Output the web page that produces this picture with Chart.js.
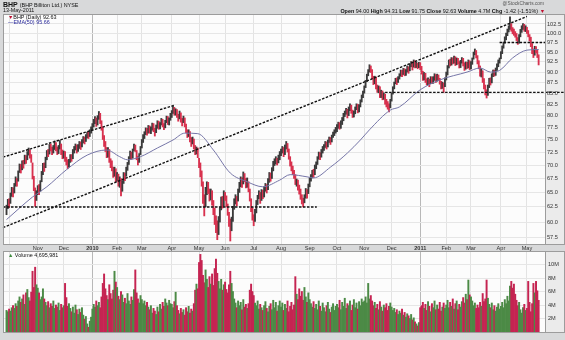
<!DOCTYPE html>
<html lang="en">
<head>
<meta charset="UTF-8">
<title>BHP Daily</title>
<script src="https://cdn.jsdelivr.net/npm/chart.js"></script>
<style>
  body { margin: 0; width: 565px; height: 340px; background: #d8d9da; position: relative; overflow: hidden;
         font-family: "Liberation Sans", Arial, sans-serif; }
  canvas { position: absolute; left: 0; }
  #priceChart { top: 0; }
  #volumeChart { top: 244px; }
  .t { position: absolute; white-space: nowrap; font-size: 5.4px; color: #111; line-height: 1; }
  .t b { font-weight: bold; }
</style>
</head>
<body>
<canvas id="priceChart" width="565" height="252"></canvas>
<canvas id="volumeChart" width="565" height="96"></canvas>

<div class="t" style="left:3px;top:1px;font-size:7px;"><b>BHP</b> <span style="font-size:5.4px">(BHP Billiton Ltd.) NYSE</span></div>
<div class="t" style="left:3px;top:8px;">13-May-2011</div>
<div class="t" style="right:21px;top:2px;color:#555;font-size:4.8px;">@StockCharts.com</div>
<div class="t" style="right:20px;top:8.5px;"><b>Open</b> 94.00 <b>High</b> 94.31 <b>Low</b> 91.75 <b>Close</b> 92.63 <b>Volume</b> 4.7M <b>Chg</b> -1.42 (-1.51%) <span style="color:#c01030">&#9660;</span></div>
<div class="t" style="left:8px;top:14.5px;"><span style="color:#c01030">&#9660;</span>BHP (Daily) 92.63</div>
<div class="t" style="left:8px;top:19.5px;color:#2a2a9c;">&#8212;EMA(50) 95.66</div>
<div class="t" style="left:8px;top:252.5px;"><span style="color:#3d8a3d">&#9650;</span> Volume 4,695,981</div>

<script>
// daily bars, 29-Sep-2009 .. 13-May-2011, one value per trading day
const firstPrevClose = 61.0;
const closes = [
  // Sep/Oct 2009
  62.0, 63.4, 62.9, 64.6, 65.5, 64.7, 66.3, 67.4, 66.6, 68.6, 69.8, 69.0, 70.4, 70.0, 71.6, 70.9, 72.3, 72.8, 71.6, 71.2, 67.8, 66.0, 63.4, 64.8,
  // Nov
  65.9, 65.1, 66.8, 68.4, 69.9, 69.3, 71.2, 72.5, 72.0, 73.6, 73.1, 72.4, 73.5, 74.2, 73.0, 72.6, 73.4, 74.3, 72.4, 71.8,
  // Dec
  72.4, 71.0, 70.6, 69.9, 70.8, 71.7, 71.1, 72.7, 73.2, 73.8, 72.6, 73.7, 74.3, 73.3, 74.7, 75.3, 74.4, 75.7, 76.2, 75.6, 76.7, 77.2,
  // Jan 2010
  77.9, 78.8, 79.3, 78.1, 79.7, 80.3, 78.6, 77.3, 75.4, 74.3, 73.0, 71.8, 72.9, 70.8, 70.2, 69.3, 68.1, 69.2, 67.4,
  // Feb
  68.2, 66.4, 67.3, 65.4, 66.8, 68.3, 67.4, 69.3, 70.1, 71.2, 72.3, 71.4, 72.8, 73.7, 72.9, 71.3, 70.6, 71.8, 73.3,
  // Mar
  74.7, 75.6, 76.2, 77.1, 76.3, 77.6, 76.6, 77.2, 78.1, 76.9, 76.2, 77.7, 78.6, 77.4, 78.2, 79.1, 77.9, 77.6, 78.7, 79.6, 78.4, 79.2, 80.1,
  // Apr
  80.7, 81.6, 80.4, 81.2, 79.9, 79.5, 80.7, 78.9, 78.6, 79.6, 77.9, 76.8, 75.9, 76.7, 74.8, 74.4, 75.2, 73.4, 72.4, 73.2, 71.8,
  // May
  70.1, 68.3, 66.6, 63.8, 62.7, 65.3, 66.2, 65.2, 64.3, 65.1, 63.2, 61.8, 60.3, 59.0, 58.8, 60.4, 61.8, 63.7, 62.9, 64.7,
  // Jun
  64.2, 62.8, 61.4, 59.9, 58.9, 60.3, 62.2, 63.4, 63.9, 63.1, 65.2, 66.3, 67.3, 66.2, 68.1, 67.3, 66.2, 67.1, 65.4, 63.8, 62.1, 60.8,
  // Jul
  60.6, 61.7, 63.2, 64.1, 64.7, 63.4, 65.1, 64.3, 65.7, 66.2, 65.3, 67.1, 68.2, 67.4, 69.2, 70.3, 70.6, 71.1, 70.3, 71.6, 72.2,
  // Aug
  72.7, 73.2, 71.9, 73.6, 74.0, 72.9, 71.4, 70.2, 69.4, 68.6, 67.9, 66.8, 66.9, 65.8, 65.2, 64.2, 63.6, 63.1, 64.2, 65.3, 64.4, 66.1,
  // Sep
  67.2, 67.8, 68.7, 68.1, 69.7, 70.3, 71.2, 72.1, 71.4, 72.7, 73.2, 73.6, 74.2, 73.4, 74.6, 75.1, 74.4, 75.6, 76.2, 76.6, 77.1,
  // Oct
  77.6, 78.2, 77.4, 78.6, 79.2, 80.1, 80.6, 81.2, 79.9, 81.6, 82.1, 80.9, 80.1, 80.7, 81.6, 82.2, 81.0, 82.1, 83.1, 84.2, 85.1,
  // Nov
  86.2, 87.6, 89.1, 90.2, 91.0, 90.3, 88.8, 87.4, 88.6, 86.4, 85.6, 86.2, 84.4, 85.2, 83.9, 84.7, 82.9, 82.6, 81.9, 81.6, 83.2,
  // Dec
  84.6, 86.1, 87.2, 88.1, 87.4, 88.6, 89.2, 90.1, 89.3, 90.6, 89.4, 90.2, 91.1, 90.1, 91.6, 92.2, 90.9, 92.6, 91.4, 92.1, 91.2, 92.0,
  // Jan 2011
  91.1, 89.9, 88.4, 89.6, 87.9, 87.4, 88.2, 86.9, 88.6, 87.6, 88.5, 89.2, 87.9, 89.1, 88.4, 87.5, 86.4, 87.2, 86.0, 88.2,
  // Feb
  89.6, 91.2, 92.6, 91.9, 93.2, 92.4, 93.6, 92.0, 93.1, 92.4, 91.4, 92.6, 93.1, 91.9, 90.9, 92.1, 91.4, 92.6, 91.0,
  // Mar
  92.2, 93.1, 94.6, 95.1, 93.9, 92.4, 91.2, 89.4, 90.2, 87.9, 86.4, 85.1, 84.6, 86.6, 88.1, 87.3, 89.2, 90.1, 89.4, 90.6, 91.6, 92.6, 93.1,
  // Apr
  94.7, 96.2, 97.1, 98.6, 99.6, 100.7, 101.5, 102.3, 100.9, 100.6, 99.9, 99.6, 98.4, 97.6, 99.2, 100.6, 101.6, 102.1, 100.9, 101.6,
  // May
  100.4, 99.4, 98.6, 96.8, 95.1, 94.4, 96.1, 95.2, 94.05, 92.63
];

const highs = [
  62.8, 63.8, 63.9, 64.9, 65.9, 65.8, 66.6, 67.8, 67.5, 68.9, 70.2, 70.1, 70.8, 70.9, 71.9, 71.8, 72.6, 73.3, 72.9, 72.0, 70.4, 67.9, 65.8, 65.3,
  66.2, 66.4, 67.1, 68.8, 70.3, 70.4, 71.5, 72.8, 73.0, 74.0, 74.1, 73.5, 73.8, 74.7, 74.4, 73.5, 73.8, 74.8, 74.1, 72.9,
  72.7, 72.6, 71.5, 71.0, 71.1, 72.0, 72.0, 73.0, 73.6, 74.1, 73.9, 74.0, 74.6, 74.5, 75.0, 75.6, 75.5, 76.0, 76.5, 76.6, 77.0, 77.6,
  78.3, 79.2, 79.8, 79.5, 80.0, 80.9, 80.5, 78.9, 77.6, 75.8, 74.6, 73.4, 73.4, 73.0, 71.2, 70.8, 69.6, 69.6, 69.3,
  68.6, 68.3, 67.8, 67.5, 67.1, 68.6, 68.5, 69.6, 70.5, 71.6, 72.7, 72.5, 73.1, 74.1, 73.9, 72.8, 71.7, 72.2, 73.6,
  75.0, 76.0, 76.6, 77.4, 77.3, 77.9, 77.8, 77.6, 78.4, 78.3, 77.3, 78.0, 78.9, 78.8, 78.5, 79.4, 79.2, 78.3, 79.0, 79.9, 79.8, 79.5, 80.5,
  81.1, 82.0, 81.8, 81.5, 81.3, 80.3, 81.0, 80.6, 79.4, 79.9, 79.5, 78.2, 77.0, 77.0, 76.6, 75.4, 75.5, 75.1, 73.8, 73.5, 73.3,
  71.3, 70.4, 68.9, 66.9, 64.6, 65.9, 66.9, 66.8, 65.6, 65.6, 65.3, 63.6, 62.3, 61.0, 60.2, 60.9, 62.4, 64.2, 64.3, 65.3,
  65.0, 64.4, 63.0, 61.6, 60.5, 60.8, 62.6, 63.9, 64.6, 64.3, 65.6, 66.8, 67.8, 67.6, 68.7, 68.4, 67.5, 67.6, 66.9, 65.6, 63.9, 62.4,
  61.2, 62.1, 63.6, 64.5, 65.3, 65.0, 65.5, 65.4, 66.0, 66.6, 66.4, 67.5, 68.6, 68.5, 69.5, 70.7, 71.2, 71.6, 71.3, 71.9, 72.6,
  73.1, 73.6, 73.4, 73.9, 74.6, 74.2, 73.1, 71.6, 70.6, 69.8, 69.0, 68.2, 67.4, 67.2, 66.3, 65.6, 64.6, 64.0, 64.6, 65.7, 65.5, 66.5,
  67.6, 68.2, 69.0, 69.2, 70.0, 70.6, 71.6, 72.5, 72.4, 73.0, 73.6, 74.0, 74.6, 74.5, 74.9, 75.5, 75.4, 75.9, 76.5, 77.0, 77.5,
  78.1, 78.6, 78.5, 78.9, 79.6, 80.5, 81.0, 81.6, 81.4, 81.9, 82.6, 82.3, 81.2, 81.0, 81.9, 82.6, 82.5, 82.4, 83.5, 84.6, 85.5,
  86.7, 88.0, 89.5, 90.6, 91.8, 91.5, 90.6, 89.0, 89.0, 88.8, 86.9, 86.7, 86.5, 85.7, 85.5, 85.1, 84.8, 83.6, 83.1, 82.6, 83.6,
  85.0, 86.5, 87.6, 88.5, 88.6, 88.9, 89.6, 90.5, 90.4, 90.9, 90.8, 90.6, 91.5, 91.3, 92.0, 92.6, 92.5, 93.0, 92.8, 92.5, 92.2, 92.4,
  92.3, 91.4, 90.2, 89.9, 89.7, 88.4, 88.6, 88.3, 88.9, 88.8, 88.9, 89.6, 89.4, 89.5, 89.3, 88.5, 87.8, 87.6, 87.4, 88.6,
  90.0, 91.6, 93.0, 93.2, 93.6, 93.5, 94.0, 93.8, 93.5, 93.4, 92.6, 92.9, 93.6, 93.4, 92.3, 92.5, 92.4, 93.0, 92.8,
  92.6, 93.5, 95.0, 95.8, 95.4, 94.1, 92.8, 91.5, 90.8, 90.3, 88.4, 86.9, 85.8, 86.9, 88.5, 88.6, 89.6, 90.5, 90.5, 91.0, 92.0, 93.0, 93.5,
  95.1, 96.6, 97.6, 99.0, 100.0, 101.1, 102.0, 104.5, 102.6, 101.5, 101.1, 100.4, 99.9, 98.8, 99.6, 101.0, 102.0, 102.6, 102.4, 102.0,
  101.6, 100.7, 99.6, 98.9, 97.2, 95.8, 96.5, 96.4, 95.7, 94.31
];

const lows = [
  61.2, 62.2, 62.4, 63.1, 64.3, 64.2, 64.9, 66.1, 66.1, 67.0, 68.6, 68.5, 69.1, 69.4, 70.2, 70.3, 71.0, 71.9, 71.3, 70.5, 67.4, 65.3, 62.6, 63.6,
  64.6, 64.6, 65.2, 66.9, 68.2, 68.8, 69.5, 71.0, 71.6, 72.1, 72.7, 72.0, 72.3, 73.0, 72.7, 72.0, 72.2, 73.1, 72.0, 71.2,
  71.3, 70.7, 70.0, 69.3, 69.6, 70.5, 70.7, 71.2, 72.3, 72.9, 72.3, 72.6, 73.2, 73.0, 73.5, 74.3, 74.1, 74.6, 75.3, 75.2, 75.6, 76.3,
  76.9, 77.6, 78.3, 77.7, 78.0, 79.2, 78.3, 76.9, 75.0, 73.6, 72.6, 71.4, 71.5, 70.5, 69.5, 68.9, 67.7, 67.9, 66.9,
  67.0, 66.1, 65.9, 64.4, 65.2, 66.6, 67.1, 67.9, 69.0, 70.1, 71.1, 71.1, 71.3, 72.7, 72.6, 71.0, 70.0, 70.5, 72.0,
  73.3, 74.4, 75.2, 76.0, 75.9, 76.3, 76.3, 76.2, 76.9, 76.6, 75.7, 76.4, 77.3, 77.1, 77.2, 78.0, 77.6, 77.0, 77.4, 78.5, 78.1, 78.0, 79.0,
  79.6, 80.5, 80.1, 80.1, 79.6, 78.8, 79.3, 78.6, 77.8, 78.5, 77.6, 76.4, 75.4, 75.6, 74.5, 73.6, 74.1, 73.1, 72.0, 72.1, 71.4,
  69.5, 67.8, 66.1, 63.1, 61.0, 62.5, 64.6, 64.8, 63.5, 63.7, 62.8, 61.2, 59.6, 58.3, 57.2, 58.0, 60.0, 62.0, 62.3, 62.6,
  63.6, 62.5, 61.1, 59.3, 57.0, 58.6, 60.1, 62.1, 63.0, 62.7, 63.5, 65.0, 66.0, 65.9, 66.5, 66.9, 65.8, 65.9, 65.1, 63.5, 61.7, 60.3,
  59.4, 60.1, 61.5, 62.9, 63.9, 63.1, 63.6, 63.9, 64.2, 65.2, 64.9, 65.5, 66.8, 67.0, 67.5, 68.9, 69.9, 70.2, 70.0, 70.4, 71.0,
  71.8, 72.3, 71.6, 72.0, 73.1, 72.5, 71.1, 69.8, 68.9, 68.2, 67.5, 66.4, 66.1, 65.4, 64.7, 63.8, 63.0, 62.5, 63.2, 64.0, 64.0, 64.8,
  66.0, 67.0, 67.6, 67.7, 68.2, 69.3, 70.1, 71.1, 71.0, 71.5, 72.3, 72.8, 73.4, 73.1, 73.5, 74.4, 74.0, 74.5, 75.4, 75.8, 76.3,
  76.6, 77.3, 77.1, 77.3, 78.1, 78.9, 79.8, 80.3, 79.5, 80.0, 81.1, 80.5, 79.6, 79.7, 80.4, 81.3, 80.6, 80.8, 81.9, 83.0, 84.0,
  85.0, 86.3, 87.7, 89.1, 90.0, 89.9, 88.4, 87.0, 87.2, 86.0, 85.2, 85.1, 84.0, 84.0, 83.5, 83.6, 82.5, 81.9, 81.4, 80.8, 81.7,
  83.2, 84.8, 86.0, 87.2, 87.0, 87.5, 88.3, 89.0, 88.9, 89.4, 89.1, 89.2, 90.0, 89.7, 90.3, 91.3, 90.5, 91.2, 91.0, 91.1, 90.8, 91.1,
  90.6, 89.5, 88.0, 88.1, 87.5, 86.9, 87.0, 86.5, 87.2, 87.2, 87.3, 88.0, 87.5, 87.8, 88.0, 87.1, 86.0, 86.1, 85.2, 86.5,
  88.1, 89.3, 91.0, 91.5, 91.7, 92.0, 92.2, 91.6, 91.8, 92.0, 91.0, 91.1, 92.2, 91.5, 90.4, 90.7, 90.9, 91.0, 90.6,
  90.8, 91.9, 93.2, 94.3, 93.5, 92.0, 90.8, 89.0, 88.8, 87.5, 86.0, 84.6, 83.9, 84.5, 86.3, 86.9, 87.4, 88.9, 89.0, 89.2, 90.4, 91.3, 92.2,
  93.3, 94.6, 96.0, 97.3, 98.2, 99.3, 100.3, 101.0, 100.5, 99.8, 99.4, 98.9, 98.0, 97.0, 97.3, 99.0, 100.2, 101.0, 100.5, 100.4,
  99.9, 99.0, 97.9, 96.4, 94.6, 93.6, 94.2, 94.8, 93.6, 91.75
];

// daily volume, millions of shares
const volumes = [
  3.2, 3.0, 3.4, 3.1, 3.6, 3.9, 3.5, 4.2, 3.8, 4.6, 5.2, 4.4, 4.9, 5.5, 4.1, 5.8, 6.3, 5.1, 4.6, 5.9, 9.0, 6.6, 9.6, 7.0,
  6.5, 5.8, 4.8, 5.2, 6.4, 4.9, 4.4, 3.9, 4.5, 3.6, 4.2, 3.8, 4.6, 3.5, 4.0, 3.7, 4.3, 3.2, 4.1, 3.6,
  3.9, 7.2, 5.1, 3.8, 4.2, 3.5, 3.0, 3.7, 2.8, 4.0, 3.3, 2.6, 3.4, 2.9, 3.6, 2.5, 1.9, 2.3, 1.2, 0.7, 1.6, 2.2,
  3.4, 4.1, 3.7, 4.6, 3.9, 4.4, 3.6, 5.2, 7.2, 8.6, 6.4, 5.4, 4.8, 7.0, 5.7, 4.9, 6.2, 9.0, 7.4,
  6.6, 5.3, 4.8, 6.0, 5.5, 4.4, 5.0, 4.2, 5.7, 4.6, 4.1, 5.2, 4.7, 6.3, 9.2, 5.8, 4.9, 4.3, 5.4,
  4.8, 4.2, 4.6, 3.9, 4.4, 3.7, 3.3, 3.9, 2.8, 3.5, 3.1, 2.6, 3.7, 3.0, 4.1, 3.4, 4.4, 3.8, 4.9, 4.3, 3.9, 4.7, 4.2,
  4.1, 3.6, 4.5, 5.9, 3.9, 3.2, 2.7, 3.5, 2.9, 3.3, 2.5, 3.6, 3.0, 3.8, 2.8, 3.4, 3.1, 4.2, 6.2, 7.1, 6.4,
  10.3, 11.5, 10.6, 8.4, 7.3, 9.2, 7.8, 6.6, 8.2, 7.1, 8.6, 6.9, 9.4, 10.8, 8.7, 7.5, 6.4, 7.8, 6.2, 7.0,
  7.4, 6.3, 5.8, 7.0, 9.0, 7.2, 6.0, 4.9, 4.3, 3.6, 4.6, 3.9, 4.4, 3.3, 4.8, 3.7, 4.1, 3.5, 4.2, 6.2, 7.1, 6.0,
  5.4, 4.3, 3.9, 4.6, 3.4, 4.1, 3.6, 3.2, 3.9, 4.5, 3.5, 3.0, 3.8, 4.2, 3.3, 4.7, 3.6, 4.4, 3.1, 3.9, 4.6,
  3.7, 4.3, 3.2, 4.1, 3.5, 4.6, 3.0, 3.8, 4.4, 3.3, 4.0, 8.2, 5.6, 4.8, 6.4, 5.3, 6.0, 4.7, 6.6, 5.2, 4.4, 5.8,
  4.8, 4.2, 3.7, 4.5, 3.5, 4.1, 3.3, 4.6, 3.8, 3.1, 4.3, 3.6, 3.0, 3.9, 4.4, 3.4, 2.9, 3.7, 4.2, 3.2, 3.8,
  4.1, 3.6, 4.7, 3.3, 4.4, 3.8, 5.0, 3.5, 4.2, 3.9, 4.6, 3.2, 4.0, 4.8, 3.6, 4.3, 3.4, 4.5, 3.9, 4.9, 4.4,
  4.6, 5.2, 4.3, 7.2, 4.9, 5.4, 4.6, 3.9, 4.4, 3.5, 4.1, 3.3, 4.5, 3.7, 3.1, 4.0, 3.6, 4.2, 3.2, 3.8, 4.3,
  3.7, 3.2, 3.5, 2.9, 3.3, 2.6, 3.1, 2.8, 3.4, 2.5, 2.9, 2.2, 2.7, 2.4, 2.0, 2.6, 1.8, 2.1, 1.5, 1.2, 0.9, 1.4,
  3.6, 3.9, 4.4, 3.5, 4.1, 3.2, 4.5, 3.8, 3.0, 4.2, 3.6, 4.6, 3.3, 4.0, 3.4, 4.4, 3.1, 3.7, 4.3, 3.5,
  4.0, 4.7, 3.6, 4.4, 3.8, 4.9, 3.4, 4.2, 4.6, 3.3, 4.1, 3.7, 4.5, 5.1, 4.3, 5.6, 4.8, 7.7, 5.5,
  5.2, 4.6, 3.9, 4.3, 3.5, 4.0, 3.6, 4.4, 3.8, 5.7, 4.5, 4.9, 7.7, 5.0, 4.1, 3.6, 4.3, 3.3, 3.9, 3.1, 3.7, 4.2, 3.4,
  3.8, 4.4, 3.6, 4.8, 4.2, 5.3, 4.6, 6.8, 7.5, 6.5, 7.1, 5.6, 4.7, 3.9, 4.4, 3.3, 2.8, 3.6, 4.1, 3.2,
  3.5, 7.5, 4.4, 3.0, 4.2, 7.2, 5.8, 7.5, 6.1, 4.696
];

// EMA(50) as plotted, sampled along the curve (trading-day index -> value)
const emaDays   = [0, 20, 31, 46, 62, 77, 87, 93, 103, 116, 128, 137, 147, 159, 172, 185, 197, 210, 218, 231, 236, 249, 262, 272, 279, 295, 302, 318, 333, 354, 364, 372, 379, 389, 400, 409];
const emaValues = [60.4, 64.2, 66.0, 69.1, 71.9, 72.9, 71.6, 71.0, 71.6, 73.3, 74.9, 76.3, 76.2, 72.9, 68.5, 66.9, 66.0, 67.2, 68.2, 67.8, 67.6, 69.6, 72.3, 74.9, 77.0, 81.2, 81.9, 85.8, 88.1, 90.0, 91.0, 90.0, 90.4, 93.5, 95.5, 95.66];

// hand-drawn trend lines: [trading-day index, price]
const trendUpper = [[-2.7, 71.5], [129.5, 82.3]];
const trendLong  = [[-2.7, 59.1], [400, 104.6]];
const supportLow = [[-2.7, 62.5], [238.5, 62.5]];
const supportMid = [[291, 85.2], [429.3, 85.2]];
const resistTop  = [[379, 97.5], [414, 97.5]];

// month grid lines (first trading day of each month)
const monthStarts = [2, 24, 44, 66, 85, 104, 127, 148, 168, 190, 211, 233, 254, 275, 296, 318, 338, 357, 380, 400];
const monthLabels = ['', 'Nov', 'Dec', '2010', 'Feb', 'Mar', 'Apr', 'May', 'Jun', 'Jul', 'Aug', 'Sep', 'Oct', 'Nov', 'Dec', '2011', 'Feb', 'Mar', 'Apr', 'May'];
const yearStarts = [66, 318];

const priceTicks = [57.5, 60, 62.5, 65, 67.5, 70, 72.5, 75, 77.5, 80, 82.5, 85, 87.5, 90, 92.5, 95, 97.5, 100, 102.5];
const volumeTicks = [2, 4, 6, 8, 10];

const X_MIN = -2.7, X_MAX = 413.9;
const FONT = 'Liberation Sans';

const prevClose = i => (i ? closes[i - 1] : firstPrevClose);
const isUp = closes.map((c, i) => c >= prevClose(i));

// white plot area, grey axis column, thin frame
const panelBg = {
  id: 'panelBg',
  beforeDraw(chart) {
    const { ctx, chartArea: a } = chart;
    ctx.save();
    ctx.fillStyle = '#ebebeb';
    ctx.fillRect(a.right, a.top, chart.width - a.right, a.bottom - a.top);
    ctx.fillStyle = '#fcfcfc';
    ctx.fillRect(a.left, a.top, a.right - a.left, a.bottom - a.top);
    ctx.restore();
  },
  afterDraw(chart) {
    const { ctx, chartArea: a } = chart;
    ctx.save();
    ctx.strokeStyle = '#9c9c9c';
    ctx.lineWidth = 1;
    ctx.strokeRect(a.left + 0.5, a.top + 0.5, chart.width - a.left - 1, a.bottom - a.top);
    ctx.beginPath();
    ctx.moveTo(a.right + 0.5, a.top);
    ctx.lineTo(a.right + 0.5, a.bottom);
    ctx.stroke();
    ctx.restore();
  }
};

const monthGrid = ctx => (yearStarts.includes(ctx.tick && ctx.tick.value) ? '#b8b8b8' : '#e3e3e3');

function xScale(showLabels) {
  return {
    type: 'linear',
    min: X_MIN,
    max: X_MAX,
    offset: false,
    afterBuildTicks: s => { s.ticks = monthStarts.map(v => ({ value: v })); },
    afterFit: s => { s.height = 8; },
    border: { display: false },
    grid: { color: monthGrid, drawTicks: false, offset: false },
    ticks: {
      display: showLabels,
      autoSkip: false,
      maxRotation: 0,
      padding: 1.5,
      color: '#333',
      font: ctx => ({ family: FONT, size: 5.6, weight: yearStarts.includes(ctx.tick && ctx.tick.value) ? 'bold' : 'normal' }),
      callback: (v, i) => monthLabels[i]
    }
  };
}

const line = pts => ({
  type: 'line',
  data: pts.map(p => ({ x: p[0], y: p[1] })),
  borderColor: '#111',
  borderWidth: 1.4,
  borderDash: [2.5, 1.5],
  pointRadius: 0,
  order: 0,
  clip: false
});

new Chart(document.getElementById('priceChart'), {
  type: 'bar',
  data: {
    datasets: [
      {
        // high-low stick per day, red when the close is below the prior close
        type: 'bar',
        data: closes.map((c, i) => ({ x: i, y: [lows[i], highs[i]] })),
        backgroundColor: isUp.map(u => (u ? '#3a3a3a' : '#d8314e')),
        barThickness: 1.2,
        order: 2
      },
      {
        type: 'line',
        data: emaDays.map((d, k) => ({ x: d, y: emaValues[k] })),
        borderColor: '#7676a8',
        borderWidth: 1,
        pointRadius: 0,
        cubicInterpolationMode: 'monotone',
        order: 1
      },
      line(trendUpper),
      line(trendLong),
      line(supportLow),
      line(supportMid),
      line(resistTop)
    ]
  },
  options: {
    responsive: false,
    animation: false,
    events: [],
    layout: { padding: { left: 3, top: 14, right: 0, bottom: 0 } },
    plugins: { legend: { display: false }, tooltip: { enabled: false } },
    scales: {
      x: xScale(true),
      y: {
        type: 'logarithmic',
        position: 'right',
        min: 56.54,
        max: 105.3,
        afterBuildTicks: s => { s.ticks = priceTicks.map(v => ({ value: v })); },
        afterFit: s => { s.width = 20; },
        border: { display: false },
        grid: { color: '#e6e6e6', drawTicks: false },
        ticks: {
          padding: 2,
          color: '#333',
          font: { family: FONT, size: 5.6 },
          callback: v => Number(v).toFixed(1)
        }
      }
    }
  },
  plugins: [panelBg]
});

new Chart(document.getElementById('volumeChart'), {
  type: 'bar',
  data: {
    datasets: [{
      data: volumes.map((v, i) => ({ x: i, y: v })),
      backgroundColor: isUp.map(u => (u ? '#4c8a46' : '#c52452')),
      barThickness: 1.3
    }]
  },
  options: {
    responsive: false,
    animation: false,
    events: [],
    layout: { padding: { left: 3, top: 7, right: 0, bottom: 0 } },
    plugins: { legend: { display: false }, tooltip: { enabled: false } },
    scales: {
      x: xScale(false),
      y: {
        position: 'right',
        min: 0,
        max: 12,
        afterBuildTicks: s => { s.ticks = volumeTicks.map(v => ({ value: v })); },
        afterFit: s => { s.width = 20; },
        border: { display: false },
        grid: { color: '#e6e6e6', drawTicks: false },
        ticks: {
          padding: 3,
          color: '#333',
          font: { family: FONT, size: 5.6 },
          callback: v => v + 'M'
        }
      }
    }
  },
  plugins: [panelBg]
});
</script>
</body>
</html>
